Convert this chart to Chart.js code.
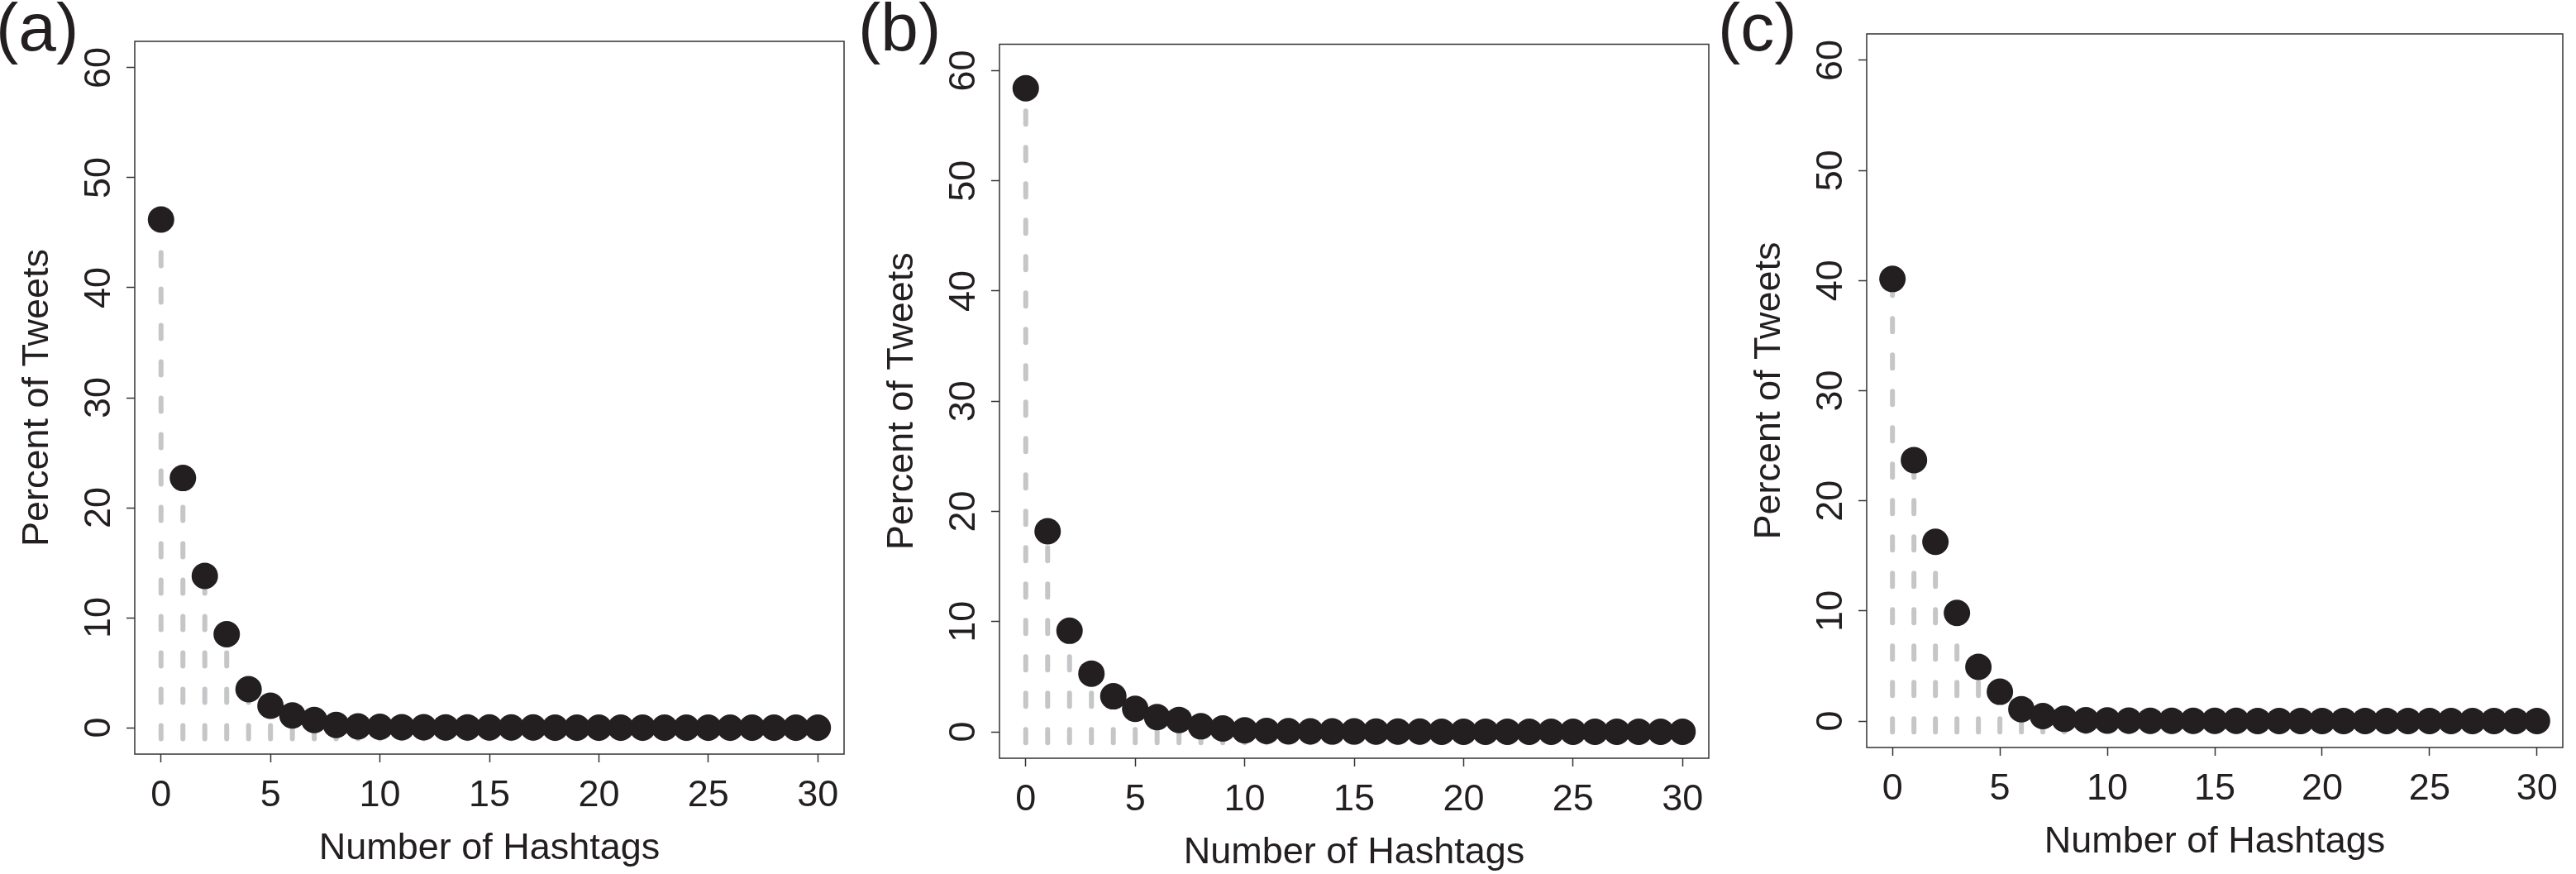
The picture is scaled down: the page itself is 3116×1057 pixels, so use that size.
<!DOCTYPE html>
<html>
<head>
<meta charset="utf-8">
<script src="https://cdn.jsdelivr.net/npm/chart.js@4.4.1/dist/chart.umd.min.js"></script>
<style>
  html, body { margin: 0; padding: 0; background: #fff; overflow: hidden; }
  body { width: 3116px; height: 1057px; position: relative; }
  .panel { position: absolute; top: 0; }
  .tag { position: absolute; font-family: 'Liberation Sans', Arial, Helvetica, sans-serif; font-size: 82px; line-height: 1; color: #231f20; }
</style>
</head>
<body>
<div class="tag" style="left:-5px;top:-8px">(a)</div>
<div class="tag" style="left:1038px;top:-8px">(b)</div>
<div class="tag" style="left:2078px;top:-8px">(c)</div>
<div class="panel" style="left:0px;width:1040px;height:1057px"><canvas id="chartA"></canvas></div>
<div class="panel" style="left:1046px;width:1040px;height:1062px"><canvas id="chartB"></canvas></div>
<div class="panel" style="left:2095px;width:1021px;height:1049px"><canvas id="chartC"></canvas></div>
<script>
var hashtags = [0, 1, 2, 3, 4, 5, 6, 7, 8, 9, 10, 11, 12, 13, 14, 15, 16, 17, 18, 19, 20, 21, 22, 23, 24, 25, 26, 27, 28, 29, 30];
var xTicks = [0, 5, 10, 15, 20, 25, 30];
var yTicks = [0, 10, 20, 30, 40, 50, 60];

var pctA = [46.2, 22.7, 13.8, 8.5, 3.5, 2.0, 1.12, 0.7, 0.25, 0.12, 0.08, 0.05, 0.04, 0.03, 0.03, 0.02, 0.02, 0.02, 0.01, 0.01, 0.01, 0.01, 0.01, 0.01, 0.01, 0.01, 0.01, 0.01, 0.01, 0.01, 0.01];
var pctB = [58.4, 18.2, 9.17, 5.28, 3.22, 2.09, 1.33, 1.08, 0.5, 0.3, 0.13, 0.08, 0.05, 0.04, 0.03, 0.03, 0.02, 0.02, 0.02, 0.01, 0.01, 0.01, 0.01, 0.01, 0.01, 0.01, 0.01, 0.01, 0.01, 0.01, 0.01];
var pctC = [40.15, 23.7, 16.28, 9.82, 4.92, 2.66, 1.08, 0.45, 0.2, 0.08, 0.05, 0.04, 0.03, 0.03, 0.02, 0.02, 0.02, 0.01, 0.01, 0.01, 0.01, 0.01, 0.01, 0.01, 0.01, 0.01, 0.01, 0.01, 0.01, 0.01, 0.01];

var ink = '#231f20';
var frameColor = '#333333';
var stemColor = '#c6c6c8';
var fontFamily = "'Liberation Sans', Arial, Helvetica, sans-serif";

// box around the plot region, like R's box()
var boxPlugin = {
  id: 'boxFrame',
  afterDraw: function(chart) {
    var a = chart.chartArea, ctx = chart.ctx;
    ctx.save();
    ctx.strokeStyle = frameColor;
    ctx.lineWidth = 1.5;
    ctx.strokeRect(a.left, a.top, a.right - a.left, a.bottom - a.top);
    ctx.restore();
  }
};

function makeChart(id, values, pad) {
  var points = [];
  var stems = [];
  for (var i = 0; i < hashtags.length; i++) {
    points.push({ x: hashtags[i], y: values[i] });
    // stem drawn from just under zero up to the point
    stems.push({ x: hashtags[i], y: -1 });
    stems.push({ x: hashtags[i], y: values[i] });
    stems.push({ x: hashtags[i], y: null });
  }

  return new Chart(document.getElementById(id), {
    type: 'line',
    data: {
      datasets: [
        { data: points, showLine: false, pointRadius: 16, pointHoverRadius: 16, pointBackgroundColor: ink, pointBorderWidth: 0, order: 1 },
        { data: stems, showLine: true, spanGaps: false, pointRadius: 0, borderColor: stemColor, borderWidth: 6, borderDash: [16, 28], borderCapStyle: 'round', order: 2 }
      ]
    },
    options: {
      responsive: true,
      maintainAspectRatio: false,
      animation: false,
      events: [],
      layout: { padding: pad },
      plugins: { legend: { display: false }, tooltip: { enabled: false } },
      scales: {
        x: {
          type: 'linear', min: -1.2, max: 31.2,
          afterBuildTicks: function(s) { s.ticks = xTicks.map(function(v) { return { value: v }; }); },
          afterFit: function(s) { s.height = 145; },
          grid: { drawOnChartArea: false, drawTicks: true, tickLength: 10, tickWidth: 1.5, tickColor: frameColor },
          border: { display: false },
          ticks: { maxRotation: 0, autoSkip: false, padding: 14, color: ink, font: { family: fontFamily, size: 45 } },
          title: { display: true, text: 'Number of Hashtags', color: ink, padding: { top: 0, bottom: 3 }, font: { family: fontFamily, size: 45, lineHeight: 1.2 } }
        },
        y: {
          type: 'linear', min: -2.4, max: 62.4,
          afterBuildTicks: function(s) { s.ticks = yTicks.map(function(v) { return { value: v }; }); },
          afterFit: function(s) { s.width = 163; },
          grid: { drawOnChartArea: false, drawTicks: true, tickLength: 10, tickWidth: 1.5, tickColor: frameColor },
          border: { display: false },
          ticks: { minRotation: 90, maxRotation: 90, crossAlign: 'center', autoSkip: false, padding: 7, color: ink, font: { family: fontFamily, size: 45 } },
          title: { display: true, text: 'Percent of Tweets', color: ink, padding: { top: 19, bottom: 0 }, font: { family: fontFamily, size: 45, lineHeight: 1.2 } }
        }
      }
    },
    plugins: [boxPlugin]
  });
}

makeChart('chartA', pctA, { top: 50, right: 19, bottom: 0, left: 0 });
makeChart('chartB', pctB, { top: 53.5, right: 19, bottom: 0, left: 0 });
makeChart('chartC', pctC, { top: 41, right: 1, bottom: 0, left: 0 });
</script>
</body>
</html>
